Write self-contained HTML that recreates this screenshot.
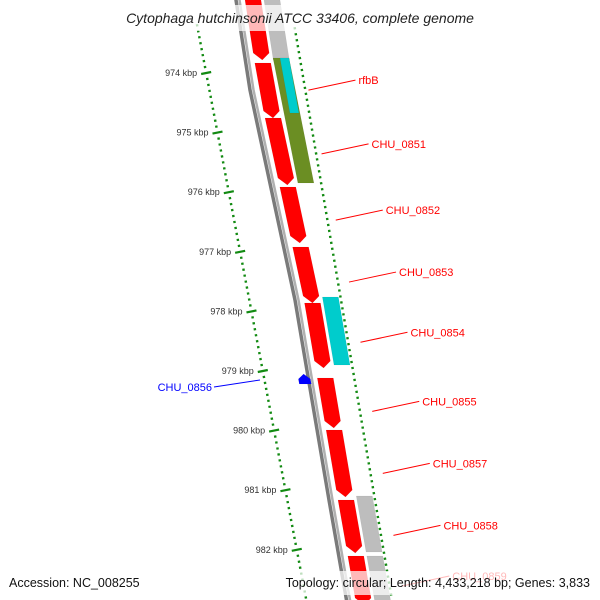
<!DOCTYPE html>
<html><head><meta charset="utf-8"><style>
html,body{margin:0;padding:0;background:#fff;}
svg{display:block;font-family:"Liberation Sans",sans-serif;}
</style></head><body>
<svg id="map" width="600" height="600" viewBox="0 0 600 600">
<g id="rulers"></g>
<g id="backbone"></g>
<g id="genes"></g>
<g id="labels"></g>
<rect x="0" y="5" width="600" height="26" fill="rgba(255,255,255,0.72)"/>
<text x="300" y="23" text-anchor="middle" font-size="14" font-style="italic" fill="#222">Cytophaga hutchinsonii ATCC 33406, complete genome</text>
<rect x="0" y="571" width="600" height="24" fill="rgba(255,255,255,0.72)"/>
<text x="9" y="587" font-size="12.5" fill="#111">Accession: NC_008255</text>
<text x="590" y="587" text-anchor="end" font-size="12.5" fill="#111">Topology: circular; Length: 4,433,218 bp; Genes: 3,833</text>
</svg>
<script>
const NS="http://www.w3.org/2000/svg";
// data (kbp)
const rulerLabels=[974,975,976,977,978,979,980,981,982];
const fwdStarts=[972.691,973.832,974.755,975.913,976.919,977.859,979.117,979.990,981.164,982.104];
const fwdEnds=[973.782,974.755,975.879,976.852,977.859,978.950,979.956,981.114,982.054,982.926];
const track2Starts=[972.691,973.748,973.748,977.758,981.097,982.104];
const track2Ends=[973.782,975.846,974.671,978.899,982.037,982.926];
const track2Colors=["#bdbdbd","#6b8e23","#00cccc","#00cccc","#bdbdbd","#bdbdbd"];
const revStarts=[979.050];
const revEnds=[979.218];
const labelNames=["rfbB","CHU_0851","CHU_0852","CHU_0853","CHU_0854","CHU_0855","CHU_0857","CHU_0858","CHU_0859"];
const labelPos=[974.12,975.19,976.30,977.34,978.35,979.51,980.55,981.59,982.44];
const blueLabel="CHU_0856";
const blueLabelPos=979.134;

function yOf(k){return 73+(k-974)*59.6;}
const bbPts=[[-20,235],[0,238],[90,252],[300,297],[500,331],[620,352]];
function bx(y){for(let i=0;i<bbPts.length-1;i++){const a=bbPts[i],b=bbPts[i+1];if(y<=b[0]||i==bbPts.length-2){return a[1]+(b[1]-a[1])*(y-a[0])/(b[0]-a[0]);}}}
function lx(y){return 198+0.19*(y-30);}
function rx(y){return 290+0.17*y;}
function mk(tag,attrs,parent){const e=document.createElementNS(NS,tag);for(const k in attrs)e.setAttribute(k,attrs[k]);parent.appendChild(e);return e;}

const rul=document.getElementById('rulers');
// left ruler dots
for(let k=972.5;k<=983.01;k+=0.1){
  const y=yOf(k);if(y<25||y>600)continue;
  const major=Math.abs(k-Math.round(k))<0.01;
  const x=lx(y);
  const d=mk('line',{x1:x-(major?5:1.2),y1:y+(major?1:0.2),x2:x+(major?5:1.2),y2:y-(major?1:0.2),stroke:'#128a12','stroke-width':2.2},rul);
  
  
}
rulerLabels.forEach(k=>{
  const y=yOf(k);
  const t=mk('text',{x:lx(y)-9,y:y+3,'text-anchor':'end','font-size':9,fill:'#333'},rul);
  t.textContent=k+' kbp';
  
  
});
// right ruler
for(let k=972.5;k<=983.01;k+=0.1){
  const y=yOf(k)-3;if(y<25||y>600)continue;
  const major=Math.abs((k-0.35)-Math.round(k-0.35))<0.01;
  const x=rx(y);
  const d=mk('line',{x1:x-(major?5:1.2),y1:y+(major?1:0.2),x2:x+(major?5:1.2),y2:y-(major?1:0.2),stroke:'#128a12','stroke-width':2.2},rul);
  
  
}
// backbone
const bb=document.getElementById('backbone');
let p1='',p2='';
for(let y=-20;y<=620;y+=10){p1+=(p1?' ':'')+(bx(y)-2)+','+y;p2+=(p2?' ':'')+(bx(y)+1.5)+','+y;}
let l=mk('polyline',{points:p1,fill:'none',stroke:'#7a7a7a','stroke-width':3.5},bb);


l=mk('polyline',{points:p2,fill:'none',stroke:'#b0b0b0','stroke-width':2.5},bb);



const g=document.getElementById('genes');
function block(k0,k1,o0,o1,color,arrow,dir){
  const y0=yOf(k0),y1=yOf(k1);
  let pts;
  const om=(o0+o1)/2;
  if(arrow&&dir>0){const ya=y1-7;pts=[[o0,y0],[o1,y0],[o1,ya],[om,y1],[o0,ya]];}
  else if(arrow&&dir<0){const ya=y0+5;pts=[[om,y0],[o1,ya],[o1,y1],[o0,y1],[o0,ya]];}
  else pts=[[o0,y0],[o1,y0],[o1,y1],[o0,y1]];
  const s=pts.map(p=>(bx(p[1])+p[0]).toFixed(1)+','+p[1].toFixed(1)).join(' ');
  return mk('polygon',{points:s,fill:color,stroke:'rgba(0,0,0,0.08)','stroke-width':0.5},g);
}
fwdStarts.forEach((s,i)=>{
  const e=block(s,fwdEnds[i],7,23,'#ff0000',true,1);
  
  
});
track2Starts.forEach((s,i)=>{
  const c=track2Colors[i];
  const narrow=(c=='#00cccc'&&i==2);
  const e=block(s,track2Ends[i],narrow?33:26,42,c,false,1);
  
  
});
revStarts.forEach((s,i)=>{
  const e=block(s,revEnds[i],-12,0,'#0000ff',true,-1);
  
  
});
const lb=document.getElementById('labels');
labelNames.forEach((n,i)=>{
  const y=yOf(labelPos[i]);
  const x0=bx(y)+58, x1=x0+47;
  const ln=mk('line',{x1:x0,y1:y+10,x2:x1,y2:y,stroke:'#ff0000','stroke-width':1},lb);
  
  
  const t=mk('text',{x:x1+3,y:y+4,'font-size':11,fill:'#ff0000'},lb);
  t.textContent=n;
  
  
});
{
  const y=yOf(blueLabelPos);
  const ln=mk('line',{x1:214,y1:y+8,x2:260,y2:y+1,stroke:'#0000ff','stroke-width':1},lb);
  
  
  const t=mk('text',{x:212,y:y+12,'text-anchor':'end','font-size':11,fill:'#0000ff'},lb);
  t.textContent=blueLabel;
  
  
}
</script>
</body></html>
